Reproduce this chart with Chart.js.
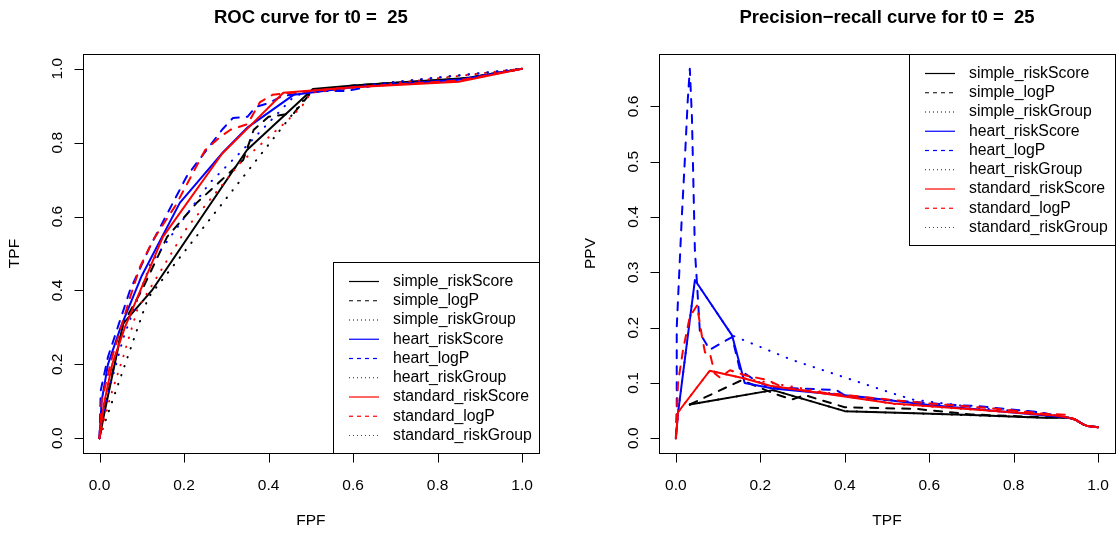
<!DOCTYPE html>
<html>
<head>
<meta charset="utf-8">
<script src="https://cdn.jsdelivr.net/npm/chart.js@4.4.1/dist/chart.umd.min.js"></script>
<style>
html, body { margin: 0; padding: 0; background: #fff; }
#wrap { position: relative; width: 1117px; height: 535px; }
canvas { position: absolute; top: 0; }
</style>
</head>
<body>
<div id="wrap">
  <canvas id="roc" width="558" height="535" style="left:0"></canvas>
  <canvas id="pr" width="559" height="535" style="left:558px"></canvas>
</div>
<script>
// series labels, same order in both panels
const seriesNames = ["simple_riskScore", "simple_logP", "simple_riskGroup",
                     "heart_riskScore", "heart_logP", "heart_riskGroup",
                     "standard_riskScore", "standard_logP", "standard_riskGroup"];

// ROC curves: [FPF, TPF]
const rocSimpleRiskScore = [[0,0],[0.01,0.06],[0.056,0.31],[0.124,0.40],[0.349,0.78],[0.505,0.945],[0.6,0.955],[0.87,0.975],[1,1]];
const rocSimpleLogP = [[0,0],[0.01,0.07],[0.056,0.31],[0.10,0.40],[0.16,0.545],[0.23,0.637],[0.29,0.70],[0.34,0.753],[0.365,0.835],[0.40,0.87],[0.46,0.88],[0.50,0.935],[0.6,0.955],[0.85,0.972],[1,1]];
const rocSimpleRiskGroup = [[0,0],[0.115,0.38],[0.50,0.94],[1,1]];
const rocHeartRiskScore = [[0,0],[0.005,0.1],[0.02,0.2],[0.05,0.3],[0.1,0.44],[0.19,0.637],[0.293,0.775],[0.349,0.84],[0.46,0.93],[0.6,0.95],[0.85,0.97],[1,1]];
const rocHeartLogP = [[0,0],[0.003,0.13],[0.02,0.22],[0.072,0.40],[0.12,0.52],[0.175,0.64],[0.207,0.71],[0.23,0.745],[0.29,0.835],[0.316,0.867],[0.35,0.87],[0.37,0.897],[0.40,0.907],[0.43,0.925],[0.505,0.94],[0.585,0.94],[0.65,0.955],[0.85,0.97],[1,1]];
const rocHeartRiskGroup = [[0,0],[0.02,0.12],[0.056,0.27],[0.12,0.47],[0.26,0.69],[0.33,0.77],[0.46,0.925],[0.5,0.94],[1,1]];
const rocStandardRiskScore = [[0,0],[0.01,0.09],[0.03,0.2],[0.06,0.3],[0.15,0.545],[0.29,0.77],[0.363,0.853],[0.435,0.935],[0.6,0.95],[0.85,0.965],[1,1]];
const rocStandardLogP = [[0,0],[0.005,0.1],[0.03,0.22],[0.072,0.38],[0.096,0.464],[0.127,0.537],[0.18,0.63],[0.25,0.78],[0.285,0.815],[0.31,0.835],[0.35,0.85],[0.38,0.91],[0.41,0.93],[0.5,0.94],[0.6,0.95],[0.85,0.968],[1,1]];
const rocStandardRiskGroup = [[0,0],[0.025,0.11],[0.056,0.22],[0.09,0.35],[0.207,0.57],[0.333,0.745],[0.42,0.835],[0.447,0.862],[0.48,0.90],[0.50,0.935],[1,1]];

// precision-recall curves: [TPF, PPV]
const tail = [[0.93,0.037],[0.945,0.034],[0.965,0.025],[0.975,0.022],[1,0.02]];
const prSimpleRiskScore = [[0.033,0.061],[0.23,0.087],[0.40,0.049],[0.566,0.045],[0.70,0.042],[0.87,0.037]].concat(tail);
const prSimpleLogP = [[0.033,0.061],[0.156,0.105],[0.235,0.08],[0.275,0.07],[0.305,0.078],[0.40,0.056],[0.57,0.053],[0.70,0.043],[0.87,0.038]].concat(tail);
const prSimpleRiskGroup = [[0.033,0.061],[0.23,0.087],[0.40,0.049],[0.566,0.045],[0.87,0.037]].concat(tail);
const prHeartRiskScore = [[0,0],[0.005,0.045],[0.045,0.286],[0.133,0.186],[0.163,0.10],[0.23,0.09],[0.436,0.075],[0.6,0.06],[0.91,0.039]].concat(tail);
const prHeartLogP = [[0,0],[0.002,0.05],[0.002,0.2],[0.014,0.40],[0.021,0.50],[0.028,0.61],[0.033,0.668],[0.038,0.58],[0.045,0.34],[0.05,0.28],[0.057,0.19],[0.08,0.16],[0.133,0.183],[0.152,0.123],[0.187,0.105],[0.223,0.092],[0.294,0.09],[0.38,0.087],[0.405,0.075],[0.64,0.061],[0.716,0.058],[0.86,0.047]].concat(tail);
const prHeartRiskGroup = [[0,0],[0.005,0.045],[0.045,0.286],[0.133,0.186],[0.277,0.141],[0.40,0.11],[0.51,0.082],[0.56,0.07],[0.75,0.052],[0.86,0.047]].concat(tail);
const prStandardRiskScore = [[0,0],[0.005,0.047],[0.08,0.122],[0.163,0.108],[0.223,0.095],[0.514,0.063],[0.90,0.041]].concat(tail);
const prStandardLogP = [[0,0],[0.005,0.1],[0.017,0.16],[0.033,0.22],[0.05,0.24],[0.062,0.183],[0.069,0.155],[0.08,0.155],[0.092,0.117],[0.104,0.11],[0.128,0.123],[0.163,0.114],[0.218,0.105],[0.253,0.092],[0.294,0.087],[0.514,0.069],[0.60,0.063],[0.75,0.054],[0.862,0.045],[0.927,0.042]].concat(tail.slice(1));
const prStandardRiskGroup = [[0,0],[0.005,0.047],[0.08,0.122],[0.163,0.108],[0.514,0.062],[0.90,0.041]].concat(tail);

// tick labels
const rocXTicks = [0, 0.2, 0.4, 0.6, 0.8, 1.0];
const rocYTicks = [0, 0.2, 0.4, 0.6, 0.8, 1.0];
const prXTicks = [0, 0.2, 0.4, 0.6, 0.8, 1.0];
const prYTicks = [0, 0.1, 0.2, 0.3, 0.4, 0.5, 0.6];

const seriesColors = ["#000000", "#000000", "#000000", "#0000ff", "#0000ff", "#0000ff", "#ff0000", "#ff0000", "#ff0000"];
const seriesLty = ["solid", "dashed", "dotted", "solid", "dashed", "dotted", "solid", "dashed", "dotted"];
const plotDash = { solid: [], dashed: [8, 8], dotted: [0.5, 9] };
const legendDash = { solid: [], dashed: [4, 4], dotted: [1, 3] };
const FONT = "'Liberation Sans', Arial, Helvetica, sans-serif";

// R style box, axes, titles and legend
const rFrame = {
    id: "rframe",
    afterDraw(chart, args, o) {
        const ctx = chart.ctx;
        const a = chart.chartArea;
        const xs = chart.scales.x;
        const ys = chart.scales.y;
        ctx.save();
        ctx.setLineDash([]);
        ctx.strokeStyle = "#000";
        ctx.fillStyle = "#000";
        ctx.lineWidth = 1;

        ctx.strokeRect(Math.round(a.left) + 0.5, Math.round(a.top) + 0.5,
            Math.round(a.right) - Math.round(a.left), Math.round(a.bottom) - Math.round(a.top));

        // x axis
        const by = Math.round(a.bottom) + 0.5;
        ctx.beginPath();
        ctx.moveTo(Math.round(xs.getPixelForValue(o.xTicks[0])) + 0.5, by);
        ctx.lineTo(Math.round(xs.getPixelForValue(o.xTicks[o.xTicks.length - 1])) + 0.5, by);
        o.xTicks.forEach(t => {
            const p = Math.round(xs.getPixelForValue(t)) + 0.5;
            ctx.moveTo(p, by);
            ctx.lineTo(p, by + 9);
        });
        // y axis
        const bx = Math.round(a.left) + 0.5;
        ctx.moveTo(bx, Math.round(ys.getPixelForValue(o.yTicks[0])) + 0.5);
        ctx.lineTo(bx, Math.round(ys.getPixelForValue(o.yTicks[o.yTicks.length - 1])) + 0.5);
        o.yTicks.forEach(t => {
            const p = Math.round(ys.getPixelForValue(t)) + 0.5;
            ctx.moveTo(bx, p);
            ctx.lineTo(bx - 9, p);
        });
        ctx.stroke();

        ctx.font = "15.5px " + FONT;
        ctx.textAlign = "center";
        ctx.textBaseline = "middle";
        o.xTicks.forEach(t => {
            ctx.fillText(t.toFixed(1), xs.getPixelForValue(t), a.bottom + 33);
        });
        o.yTicks.forEach(t => {
            ctx.save();
            ctx.translate(a.left - 25, ys.getPixelForValue(t));
            ctx.rotate(-Math.PI / 2);
            ctx.fillText(t.toFixed(1), 0, 0);
            ctx.restore();
        });

        const cx = (a.left + a.right) / 2;
        ctx.fillText(o.xlab, cx, 521);
        ctx.save();
        ctx.translate(a.left - 68, (a.top + a.bottom) / 2);
        ctx.rotate(-Math.PI / 2);
        ctx.fillText(o.ylab, 0, 0);
        ctx.restore();

        ctx.font = "bold 18.5px " + FONT;
        ctx.fillText(o.title, cx, 18);

        // legend
        const lw = 206, lh = 191;
        const lx = Math.round(a.right) - lw;
        const ly = o.legend === "topright" ? Math.round(a.top) : Math.round(a.bottom) - lh;
        ctx.fillStyle = "#fff";
        ctx.fillRect(lx, ly, lw, lh);
        ctx.strokeStyle = "#000";
        ctx.strokeRect(lx + 0.5, ly + 0.5, lw, lh);
        ctx.font = "15.8px " + FONT;
        ctx.textAlign = "left";
        seriesNames.forEach((name, i) => {
            const y = ly + 19.5 + i * 19.25;
            ctx.strokeStyle = seriesColors[i];
            ctx.lineWidth = 1.2;
            ctx.setLineDash(legendDash[seriesLty[i]]);
            ctx.beginPath();
            ctx.moveTo(lx + 16, y);
            ctx.lineTo(lx + 46, y);
            ctx.stroke();
            ctx.fillStyle = "#000";
            ctx.fillText(name, lx + 60, y);
        });
        ctx.restore();
    }
};

function makeChart(id, series, xr, yr, frame, left, right) {
    const canvas = document.getElementById(id);
    return new Chart(canvas, {
        type: "scatter",
        data: {
            datasets: series.map((pts, i) => ({
                label: seriesNames[i],
                data: pts.map(p => ({ x: p[0], y: p[1] })),
                showLine: true,
                borderColor: seriesColors[i],
                backgroundColor: seriesColors[i],
                borderWidth: 2,
                borderDash: plotDash[seriesLty[i]],
                borderCapStyle: "round",
                borderJoinStyle: "round",
                pointRadius: 0,
                pointHoverRadius: 0,
                tension: 0,
                fill: false,
                order: series.length - i
            }))
        },
        options: {
            responsive: false,
            animation: false,
            devicePixelRatio: 1,
            events: [],
            layout: { padding: { top: 54, right: canvas.width - right, left: 0, bottom: 0 } },
            plugins: {
                legend: { display: false },
                tooltip: { enabled: false },
                rframe: frame
            },
            scales: {
                x: {
                    type: "linear", min: xr[0], max: xr[1],
                    grid: { display: false }, border: { display: false }, ticks: { display: false },
                    afterFit: s => { s.height = 535 - 453; }
                },
                y: {
                    type: "linear", min: yr[0], max: yr[1],
                    grid: { display: false }, border: { display: false }, ticks: { display: false },
                    afterFit: s => { s.width = left; }
                }
            }
        },
        plugins: [rFrame]
    });
}

makeChart("roc",
    [rocSimpleRiskScore, rocSimpleLogP, rocSimpleRiskGroup,
     rocHeartRiskScore, rocHeartLogP, rocHeartRiskGroup,
     rocStandardRiskScore, rocStandardLogP, rocStandardRiskGroup],
    [-0.04, 1.04], [-0.04, 1.04],
    { title: "ROC curve for t0 =  25", xlab: "FPF", ylab: "TPF", xTicks: rocXTicks, yTicks: rocYTicks, legend: "bottomright" },
    82.6, 539);

makeChart("pr",
    [prSimpleRiskScore, prSimpleLogP, prSimpleRiskGroup,
     prHeartRiskScore, prHeartLogP, prHeartRiskGroup,
     prStandardRiskScore, prStandardLogP, prStandardRiskGroup],
    [-0.04, 1.04], [-0.0267, 0.6947],
    { title: "Precision\u2212recall curve for t0 =  25", xlab: "TPF", ylab: "PPV", xTicks: prXTicks, yTicks: prYTicks, legend: "topright" },
    101, 557);
</script>
</body>
</html>
